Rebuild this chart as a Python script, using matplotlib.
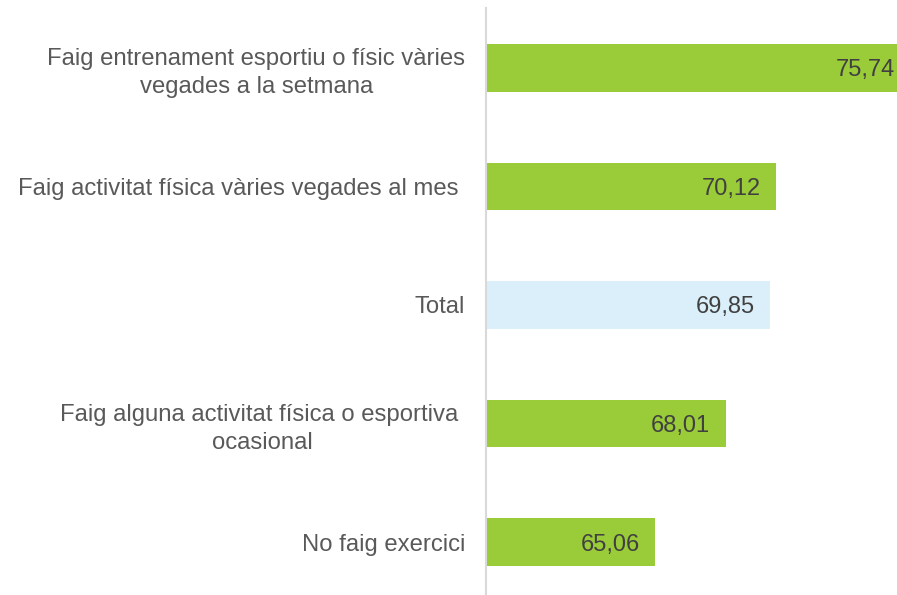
import matplotlib.pyplot as plt

plt.rcParams['font.family'] = ['Liberation Sans', 'DejaVu Sans']

categories = ['Faig entrenament esportiu o físic vàries\nvegades a la setmana',
              'Faig activitat física vàries vegades al mes ',
              'Total',
              'Faig alguna activitat física o esportiva \nocasional',
              'No faig exercici']
values = [75.74, 70.12, 69.85, 68.01, 65.06]
value_labels = ['75,74', '70,12', '69,85', '68,01', '65,06']
colors = ['#9ACB38', '#9ACB38', '#DAEFF9', '#9ACB38', '#9ACB38']

xmin, xmax = 58, 75.17

fig = plt.figure(figsize=(8.97, 5.95), dpi=100)
ax = fig.add_axes([486 / 897, 0, 411 / 897, 587 / 595])

y = list(range(len(values)))
ax.barh(y, [v - xmin for v in values], left=xmin, height=0.4, color=colors)
ax.set_xlim(xmin, xmax)
ax.set_ylim(4.447, -0.506)

# value labels sit just inside the end of each bar
for yi, v, lab in zip(y, values, value_labels):
    ax.annotate(lab, (v, yi), xytext=(-11, 0), textcoords='offset points',
                ha='right', va='center_baseline', fontsize=17, color='#404040',
                annotation_clip=False)

ax.set_yticks(y)
ax.set_yticklabels(categories, fontsize=17.2, color='#595959', ha='right',
                   multialignment='center', linespacing=1.35)
ax.tick_params(axis='y', length=0, pad=15)
ax.set_xticks([])

for s in ['top', 'right', 'bottom']:
    ax.spines[s].set_visible(False)
ax.spines['left'].set_color('#D9D9D9')
ax.spines['left'].set_linewidth(1.5)

fig.savefig('out.png', dpi=100)
